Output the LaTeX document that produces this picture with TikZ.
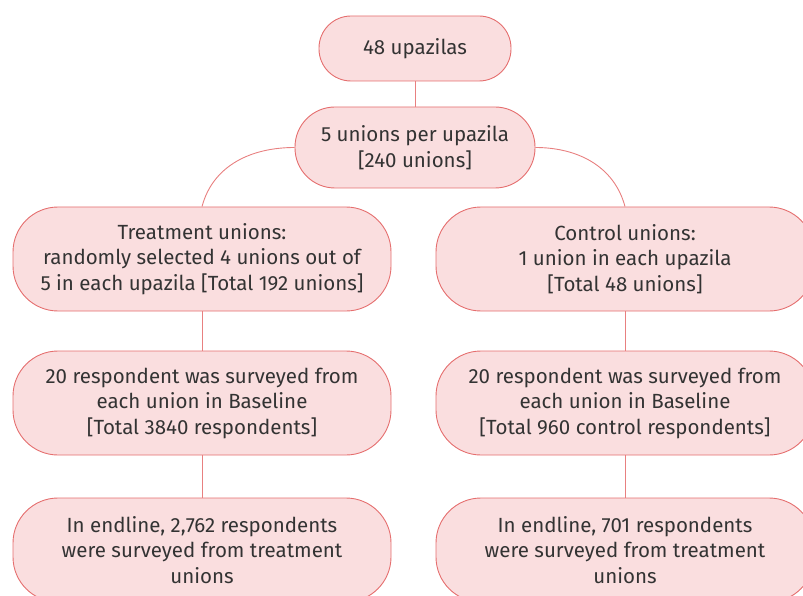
\documentclass[tikz,border=0pt]{standalone}
\usepackage{fontspec}
\setmainfont{Fira Sans}
\usepackage{tikz}
\usetikzlibrary{positioning}

\definecolor{boxpink}{RGB}{250,222,223}
\definecolor{edgered}{RGB}{229,110,110}
\definecolor{linkred}{RGB}{232,128,128}

\begin{document}
\begin{tikzpicture}[
  x=1pt, y=-1pt,
  stage/.style={rectangle, rounded corners=45pt, draw=edgered, fill=boxpink,
                line width=0.9pt, minimum width=378pt, minimum height=104pt,
                align=center, inner sep=0pt,
                font=\fontsize{20.5}{25.5}\selectfont, text=black!80},
  pill/.style={stage, minimum width=192pt, minimum height=65pt, rounded corners=32pt},
  link/.style={draw=linkred, line width=0.9pt},
]
\useasboundingbox (0,0) rectangle (803,596);
\clip (0,0) rectangle (803,596);

\node[pill]  (upazila) at (415, 48.5) {48 upazilas};
\node[pill, minimum width=240pt, minimum height=81pt, rounded corners=40pt]
             (unions)  at (415, 147.5) {5 unions per upazila\\{}[240 unions]};

\node[stage] (treat)   at (202, 259) {Treatment unions:\\randomly selected 4 unions out of\\5 in each upazila [Total 192 unions]};
\node[stage] (control) at (625, 259) {Control unions:\\1 union in each upazila\\{}[Total 48 unions]};

\node[stage] (treatresp) at (202, 403) {20 respondent was surveyed from\\each union in Baseline\\{}[Total 3840 respondents]};
\node[stage] (ctrlresp)  at (625, 403) {20 respondent was surveyed from\\each union in Baseline\\{}[Total 960 control respondents]};

\node[stage] (treatend) at (202, 550) {In endline, 2,762 respondents\\were surveyed from treatment\\unions};
\node[stage] (ctrlend)  at (625, 550) {In endline, 701 respondents\\were surveyed from treatment\\unions};

% connectors
\draw[link] (upazila) -- (unions);
\draw[link] (unions.west) to[out=180, in=75] (treat.north);
\draw[link] (unions.east) to[out=0, in=105] (control.north);
\draw[link] (treat) -- (treatresp);
\draw[link] (control) -- (ctrlresp);
\draw[link] (treatresp) -- (treatend);
\draw[link] (ctrlresp) -- (ctrlend);
\end{tikzpicture}
\end{document}
